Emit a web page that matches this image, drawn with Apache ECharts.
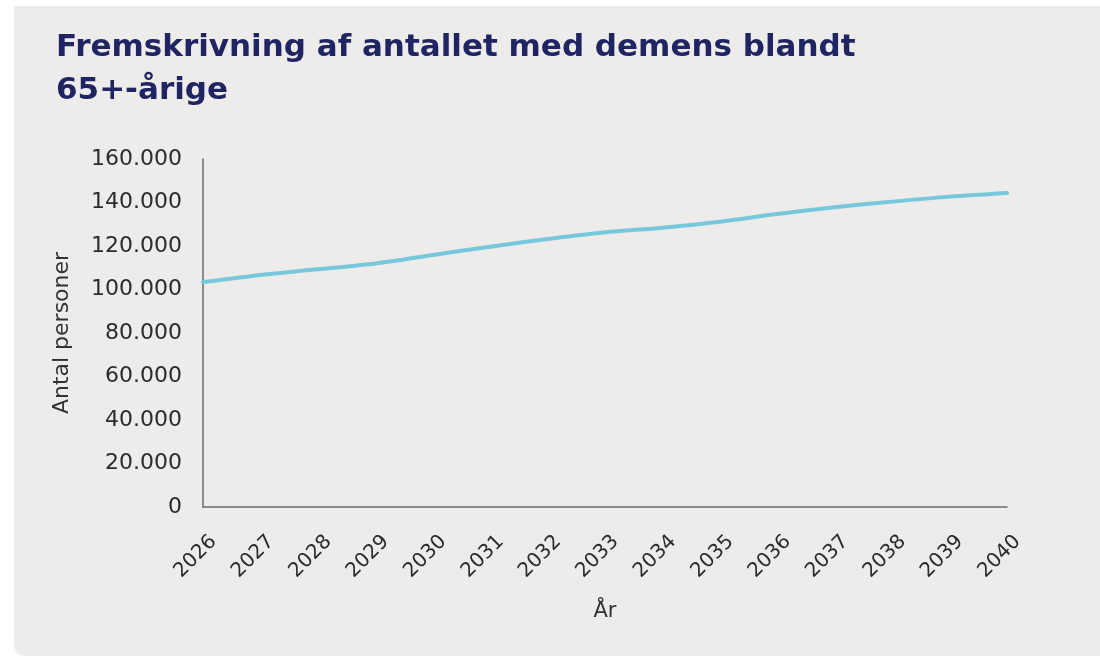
<!DOCTYPE html>
<html>
<head>
<meta charset="utf-8">
<script src="https://cdn.jsdelivr.net/npm/echarts@6/dist/echarts.min.js"></script>
<style>
html,body{margin:0;padding:0;background:#ffffff;}
#chart{width:1100px;height:656px;}
</style>
</head>
<body>
<div id="chart"></div>
<script>
const titleLines = ["Fremskrivning af antallet med demens blandt", "65+-årige"];
const years = ["2026","2027","2028","2029","2030","2031","2032","2033","2034","2035","2036","2037","2038","2039","2040"];
const dementiaCount = [103400,106700,109300,112000,115900,119700,123200,126300,128400,131200,134700,137800,140400,142700,144400];
const yTicks = {min:0, max:160000, interval:20000};
const yName = "Antal personer";
const xName = "År";

const chart = echarts.init(document.getElementById('chart'), null, {renderer:'canvas'});
const fmt = v => v === 0 ? '0' : String(v).replace(/\B(?=(\d{3})+(?!\d))/g, '.');
chart.setOption({
  backgroundColor: '#ffffff',
  animation: false,
  graphic: [{
    type: 'rect', z: -10, silent: true,
    shape: {x: 14, y: 6, width: 1100, height: 650, r: [0,0,0,10]},
    style: {fill: '#EDECEA'}
  }],
  title: {
    text: titleLines.join('\n'),
    left: 51, top: 21,
    textStyle: {fontFamily: 'DejaVu Sans', fontWeight: 'bold', fontSize: 31, color: '#1F2563', lineHeight: 43}
  },
  grid: {left: 203, right: 93, top: 159, bottom: 149, containLabel: false},
  xAxis: {
    type: 'category', data: years, boundaryGap: false,
    name: xName, nameLocation: 'middle', nameGap: 94,
    nameTextStyle: {fontFamily: 'DejaVu Sans', fontSize: 21, color: '#333333'},
    axisLine: {lineStyle: {color: '#6b6b6b', width: 1.5}},
    axisTick: {show: false},
    axisLabel: {rotate: 45, margin: 21, verticalAlign: 'top', padding: [5,0,0,0], fontFamily: 'DejaVu Sans', fontSize: 20, color: '#2b2b2b', interval: 0}
  },
  yAxis: {
    type: 'value', min: yTicks.min, max: yTicks.max, interval: yTicks.interval,
    name: yName, nameLocation: 'middle', nameGap: 130,
    nameTextStyle: {fontFamily: 'DejaVu Sans', fontSize: 22, color: '#333333'},
    axisLine: {show: true, lineStyle: {color: '#6b6b6b', width: 1.5}},
    axisTick: {show: false},
    splitLine: {show: false},
    axisLabel: {margin: 21, fontFamily: 'DejaVu Sans', fontSize: 22, color: '#2b2b2b', formatter: fmt}
  },
  series: [{
    type: 'line', data: dementiaCount, smooth: 0.3, symbol: 'none',
    lineStyle: {color: '#77C8DC', width: 4, cap: 'round'}
  }]
});
</script>
</body>
</html>
